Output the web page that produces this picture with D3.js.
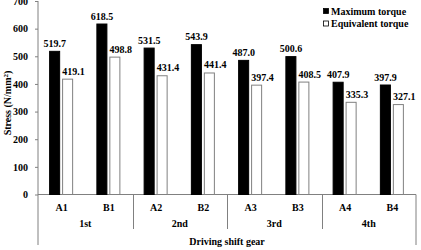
<!DOCTYPE html>
<html><head><meta charset="utf-8">
<script src="https://cdn.jsdelivr.net/npm/d3@7"></script>
<style>body{margin:0;background:#fff}svg text{font-family:"Liberation Serif","Times New Roman",serif;font-weight:bold;fill:#000}</style>
</head><body><svg id="c" width="421" height="250"></svg>
<script>
const categories = ["A1","B1","A2","B2","A3","B3","A4","B4"];
const groups = ["1st","2nd","3rd","4th"];
const series = ["Maximum torque","Equivalent torque"];
const maxTorque = [519.7,618.5,531.5,543.9,487.0,500.6,407.9,397.9];
const eqTorque = [419.1,498.8,431.4,441.4,397.4,408.5,335.3,327.1];
const yTicks = [0,100,200,300,400,500,600,700];

const svg = d3.select("#c");
const L=38, R=416, T=1, B=194.5;
const axisCol="#808080";
const y = d3.scaleLinear().domain([0,700]).range([B,T]);
const x0 = d3.scaleBand().domain(categories).range([L,R]).padding(0);
const xg = d3.scaleBand().domain(groups).range([L,R]).padding(0);
const pairW=24;
const x1 = d3.scaleBand().domain(series).range([0,pairW]).paddingInner(0.15);
const fills=["#000","#fff"];
const strokes=["#000","#808080"];

const data = categories.map((c,i)=>({c, v:[maxTorque[i],eqTorque[i]]}));

// y axis
const ya = svg.append("g").attr("transform",`translate(${L},0)`)
  .call(d3.axisLeft(y).tickValues(yTicks).tickSize(3).tickPadding(7).tickFormat(d3.format("d")));
ya.select(".domain").remove();
ya.selectAll("line").attr("stroke",axisCol);
ya.selectAll("text").attr("font-size",10).style("font-family","Liberation Serif").style("font-weight","bold");
svg.append("line").attr("x1",L).attr("x2",L).attr("y1",T).attr("y2",245).attr("stroke",axisCol);
svg.append("line").attr("x1",L).attr("x2",R).attr("y1",B).attr("y2",B).attr("stroke",axisCol);
svg.append("line").attr("x1",R).attr("x2",R).attr("y1",B).attr("y2",245).attr("stroke",axisCol);
groups.slice(1).forEach(g=>{
  svg.append("line").attr("x1",Math.round(xg(g))+0.5).attr("x2",Math.round(xg(g))+0.5).attr("y1",B).attr("y2",229).attr("stroke",axisCol);
});

// bars
const cat = svg.selectAll("g.cat").data(data).join("g")
  .attr("transform",d=>`translate(${x0(d.c)+(x0.bandwidth()-pairW)/2-0.5},0)`);
series.forEach((s,j)=>{
  cat.append("rect").attr("x",x1(s)+0.5).attr("width",x1.bandwidth()-1)
    .attr("y",d=>y(d.v[j])+0.5).attr("height",d=>B-y(d.v[j])-0.5)
    .attr("fill",fills[j]).attr("stroke",strokes[j]).attr("stroke-width",1);
  cat.append("text").attr("x",x1(s)+x1.bandwidth()/2+(j?6:0)).attr("y",d=>y(d.v[j])-4)
    .attr("text-anchor","middle").attr("font-size",10).text(d=>d.v[j].toFixed(1));
});

// category labels
svg.selectAll("text.cl").data(categories).join("text").attr("class","cl")
  .attr("x",d=>x0(d)+x0.bandwidth()/2).attr("y",210.5).attr("text-anchor","middle").attr("font-size",10).text(d=>d);
svg.selectAll("text.gl").data(groups).join("text").attr("class","gl")
  .attr("x",d=>xg(d)+xg.bandwidth()/2).attr("y",226.5).attr("text-anchor","middle").attr("font-size",10).text(d=>d);
svg.append("text").attr("x",(L+R)/2).attr("y",244.5).attr("text-anchor","middle").attr("font-size",10).text("Driving shift gear");
svg.append("text").attr("transform","translate(11,103) rotate(-90)").attr("text-anchor","middle").attr("font-size",10)
  .html('Stress (N/mm<tspan dy="-3" font-size="7">2</tspan><tspan dy="3">)</tspan>');

// legend
series.forEach((s,j)=>{
  const ly = 11 + j*12.5;
  svg.append("rect").attr("x",323.5).attr("y",ly-2.5).attr("width",5).attr("height",5)
    .attr("fill",fills[j]).attr("stroke",j?"#000":"#000").attr("stroke-width",0.8);
  svg.append("text").attr("x",331).attr("y",ly+3.5).attr("font-size",10).text(s);
});
</script></body></html>
